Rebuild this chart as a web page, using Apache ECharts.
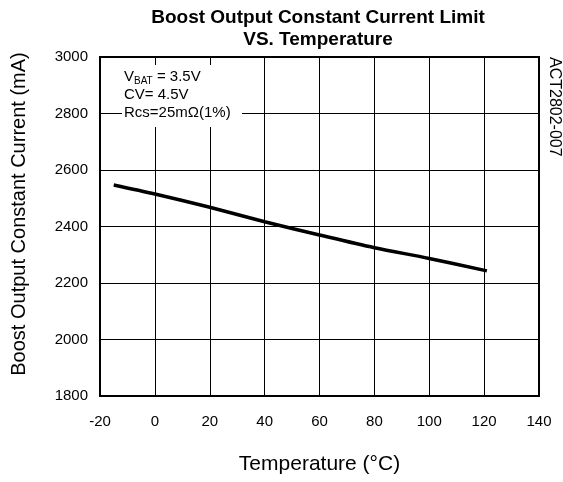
<!DOCTYPE html>
<html><head><meta charset="utf-8">
<script src="https://cdn.jsdelivr.net/npm/echarts@6/dist/echarts.min.js"></script>
<style>html,body{margin:0;padding:0;background:#fff}#c{width:563px;height:482px}</style>
</head><body><div id="c"></div>
<script>
const temps = [-15, 0, 20, 40, 60, 80, 100, 121];
const current = [2547, 2515, 2468, 2417, 2370, 2325, 2287, 2243];
const xTicks = [-20, 0, 20, 40, 60, 80, 100, 120, 140];
const yTicks = [1800, 2000, 2200, 2400, 2600, 2800, 3000];

const F = 'Arial, "Liberation Sans", Helvetica, sans-serif';
const chart = echarts.init(document.getElementById('c'), null, {renderer: 'canvas'});
chart.setOption({
  animation: false,
  backgroundColor: '#fff',
  title: {
    text: 'Boost Output Constant Current Limit\nVS. Temperature',
    left: 313, top: 2, textAlign: 'center',
    textStyle: {fontFamily: F, fontWeight: 'bold', fontSize: 19, color: '#000', lineHeight: 22}
  },
  grid: {left: 100, right: 24, top: 57, bottom: 86, show: true, borderColor: '#000', borderWidth: 2, backgroundColor: 'transparent'},
  xAxis: {
    type: 'value', min: xTicks[0], max: xTicks[xTicks.length - 1], interval: 20,
    name: 'Temperature (°C)', nameLocation: 'middle', nameGap: 58,
    nameTextStyle: {fontFamily: F, fontSize: 21, color: '#000'},
    axisLine: {show: false}, axisTick: {show: false},
    axisLabel: {fontFamily: F, fontSize: 15, color: '#000', margin: 18, formatter: v => String(v)},
    splitLine: {show: true, lineStyle: {color: '#000', width: 1}}
  },
  yAxis: {
    type: 'value', min: yTicks[0], max: yTicks[yTicks.length - 1], interval: 200,
    axisLine: {show: false}, axisTick: {show: false},
    axisLabel: {fontFamily: F, fontSize: 15, color: '#000', margin: 12, formatter: v => String(v)},
    splitLine: {show: true, lineStyle: {color: '#000', width: 1}}
  },
  graphic: [
    {type: 'text', x: 19, y: 214, rotation: Math.PI / 2, z: 11, style: {
      text: 'Boost Output Constant Current (mA)', fontFamily: F, fontSize: 20, fill: '#000', align: 'center', verticalAlign: 'middle'
    }},
    {type: 'rect', x: 122, y: 65, shape: {width: 120, height: 62}, style: {fill: '#fff'}, z: 10},
    {type: 'text', x: 124, y: 68, z: 11, style: {
      text: '{a|V}{s|BAT}{a| = 3.5V}\n{a|CV= 4.5V}\n{a|Rcs=25mΩ(1%)}',
      rich: {
        a: {fontFamily: F, fontSize: 15, color: '#000', lineHeight: 18},
        s: {fontFamily: F, fontSize: 10, color: '#000', lineHeight: 18, verticalAlign: 'bottom', padding: [7, 0, 0, 0]}
      }
    }},
    {type: 'text', x: 554, y: 57, rotation: -Math.PI / 2, z: 11, style: {
      text: 'ACT2802-007', fontFamily: F, fontSize: 16, fill: '#000', align: 'left', verticalAlign: 'middle'
    }}
  ],
  series: [{
    type: 'line', data: temps.map((t, i) => [t, current[i]]),
    smooth: 0.3, showSymbol: false, symbol: 'none',
    lineStyle: {color: '#000', width: 3.5}
  }]
});
</script></body></html>
